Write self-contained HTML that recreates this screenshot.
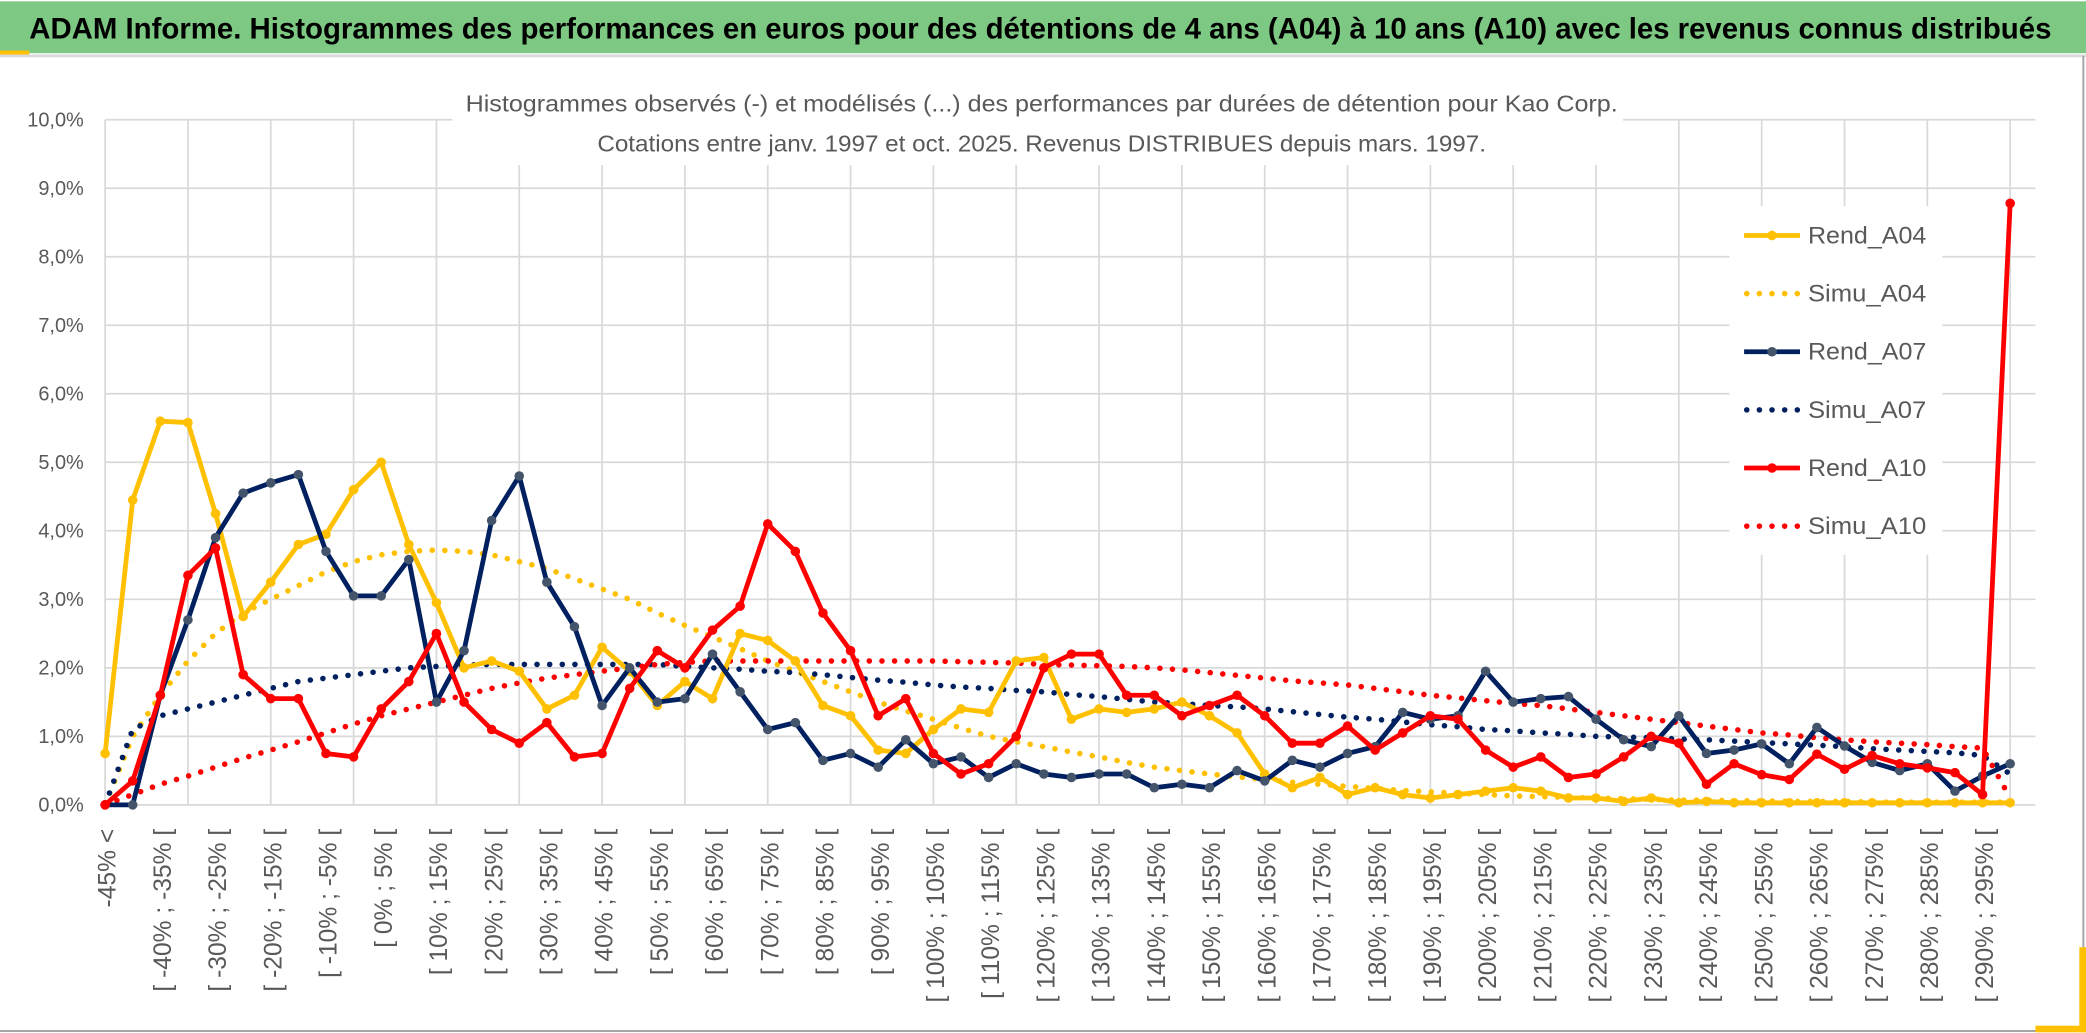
<!DOCTYPE html>
<html><head><meta charset="utf-8"><style>
html,body{margin:0;padding:0;background:#fff;}
svg{display:block;font-family:"Liberation Sans",sans-serif;}
</style></head><body>
<svg id="chart" width="2086" height="1033" viewBox="0 0 1568 776.5" preserveAspectRatio="none" xmlns="http://www.w3.org/2000/svg">
<rect x="0" y="0" width="1568" height="776.5" fill="#fff"/>
<rect x="0" y="1" width="1568" height="39" fill="#7dc882"/>
<rect x="0" y="38" width="22" height="3" fill="#ffc000"/>
<line x1="0" y1="42" x2="1568" y2="42" stroke="#d9d9d9" stroke-width="2"/>
<text x="22" y="29" font-size="22" font-weight="bold" fill="#000" textLength="1520" lengthAdjust="spacingAndGlyphs">ADAM Informe. Histogrammes des performances en euros pour des détentions de 4 ans (A04) à 10 ans (A10) avec les revenus connus distribués</text>
<line x1="1566" y1="42" x2="1566" y2="775" stroke="#a6a6a6" stroke-width="1.5"/>
<line x1="0" y1="775" x2="1566" y2="775" stroke="#a6a6a6" stroke-width="1.5"/>
<rect x="1563" y="712" width="5" height="64" fill="#ffc000"/>
<rect x="1530" y="771" width="38" height="5" fill="#ffc000"/>
<g id="grid"></g>
<g id="yaxis"></g>
<g id="xaxis"></g>
<rect x="340" y="60" width="880" height="64" fill="#fff"/>
<text x="783" y="84" font-size="17.5" fill="#595959" text-anchor="middle" textLength="866" lengthAdjust="spacingAndGlyphs">Histogrammes observés (-) et modélisés (...) des performances par durées de détention pour Kao Corp.</text>
<text x="783" y="114" font-size="17.5" fill="#595959" text-anchor="middle" textLength="668" lengthAdjust="spacingAndGlyphs">Cotations entre janv. 1997 et oct. 2025. Revenus DISTRIBUES depuis mars. 1997.</text>
<g id="series"></g>
<g id="legend"></g>
</svg>
<script>
const categoryStarts = [];
for (let k = -45; k <= 295; k += 5) categoryStarts.push(k);
const categories = ["-45% <"].concat(categoryStarts.map(s => "[ " + s + "% ; " + (s + 5) + "% ["));
const yTicks = [0,1,2,3,4,5,6,7,8,9,10];
const rendA04 = [0.75,4.45,5.6,5.58,4.25,2.75,3.25,3.8,3.95,4.6,5.0,3.8,2.95,2.0,2.1,1.95,1.4,1.6,2.3,1.95,1.45,1.8,1.55,2.5,2.4,2.1,1.45,1.3,0.8,0.75,1.1,1.4,1.35,2.1,2.15,1.25,1.4,1.35,1.4,1.5,1.3,1.05,0.45,0.25,0.4,0.15,0.25,0.15,0.1,0.15,0.2,0.25,0.2,0.1,0.1,0.05,0.1,0.03,0.05,0.03,0.03,0.03,0.03,0.03,0.03,0.03,0.03,0.03,0.03,0.03];
const simuA04 = [0,1.0,1.6,2.1,2.5,2.8,3.0,3.2,3.4,3.55,3.65,3.7,3.72,3.7,3.65,3.55,3.45,3.3,3.15,3.0,2.8,2.62,2.45,2.28,2.1,1.95,1.8,1.65,1.5,1.37,1.25,1.12,1.0,0.92,0.85,0.77,0.7,0.62,0.55,0.5,0.45,0.41,0.37,0.33,0.3,0.27,0.24,0.21,0.19,0.17,0.15,0.13,0.12,0.11,0.1,0.09,0.08,0.07,0.07,0.06,0.06,0.05,0.05,0.05,0.04,0.04,0.04,0.04,0.04,0.04];
const rendA07 = [0,0,1.6,2.7,3.9,4.55,4.7,4.82,3.7,3.05,3.05,3.58,1.5,2.25,4.15,4.8,3.25,2.6,1.45,2.0,1.5,1.55,2.2,1.65,1.1,1.2,0.65,0.75,0.55,0.95,0.6,0.7,0.4,0.6,0.45,0.4,0.45,0.45,0.25,0.3,0.25,0.5,0.35,0.65,0.55,0.75,0.85,1.35,1.25,1.3,1.95,1.5,1.55,1.58,1.25,0.95,0.85,1.3,0.75,0.8,0.89,0.6,1.13,0.86,0.62,0.5,0.6,0.2,0.42,0.6];
const simuA07 = [0,1.1,1.3,1.4,1.5,1.6,1.7,1.8,1.85,1.9,1.95,2.0,2.02,2.04,2.05,2.05,2.05,2.05,2.05,2.05,2.05,2.02,2.0,1.98,1.95,1.93,1.9,1.86,1.82,1.79,1.75,1.72,1.7,1.67,1.65,1.61,1.58,1.54,1.5,1.48,1.45,1.43,1.4,1.36,1.32,1.28,1.25,1.21,1.17,1.14,1.1,1.08,1.05,1.03,1.0,0.99,0.98,0.96,0.95,0.93,0.91,0.89,0.87,0.85,0.82,0.8,0.78,0.76,0.72,0.45];
const rendA10 = [0,0.35,1.6,3.35,3.75,1.9,1.55,1.55,0.75,0.7,1.4,1.8,2.5,1.5,1.1,0.9,1.2,0.7,0.75,1.7,2.25,2.0,2.55,2.9,4.1,3.7,2.8,2.25,1.3,1.55,0.75,0.45,0.6,1.0,2.0,2.2,2.2,1.6,1.6,1.3,1.45,1.6,1.3,0.9,0.9,1.15,0.8,1.05,1.3,1.25,0.8,0.55,0.7,0.4,0.45,0.7,1.0,0.9,0.3,0.6,0.44,0.37,0.74,0.52,0.72,0.6,0.54,0.47,0.15,8.78];
const simuA10 = [0,0.15,0.3,0.42,0.55,0.68,0.8,0.92,1.05,1.18,1.3,1.4,1.5,1.6,1.7,1.78,1.85,1.9,1.95,2.0,2.05,2.08,2.1,2.1,2.1,2.1,2.1,2.1,2.1,2.1,2.1,2.09,2.08,2.07,2.05,2.04,2.03,2.02,2.0,1.97,1.93,1.89,1.85,1.81,1.78,1.75,1.7,1.65,1.6,1.56,1.52,1.48,1.45,1.4,1.35,1.3,1.25,1.2,1.15,1.1,1.05,1.02,0.98,0.95,0.92,0.9,0.88,0.85,0.83,0.1];
const seriesNames = ["Rend_A04","Simu_A04","Rend_A07","Simu_A07","Rend_A10","Simu_A10"];

const NS = "http://www.w3.org/2000/svg";
const X0 = 79, X1 = 1511, Y0 = 605, Y1 = 90;
function xPos(i){ return X0 + i * (X1 - X0) / (categories.length - 1); }
function yPos(v){ return Y0 - (v - yTicks[0]) / (yTicks[yTicks.length-1] - yTicks[0]) * (Y0 - Y1); }
function mk(tag, attrs, parent){ const e = document.createElementNS(NS, tag); for (const k in attrs) e.setAttribute(k, attrs[k]); parent.appendChild(e); return e; }

const grid = document.getElementById("grid");
yTicks.forEach(t => {
  const l = mk("line", {x1:X0, x2:1530, y1:yPos(t), y2:yPos(t), stroke:"#d9d9d9", "stroke-width":1.3}, grid);
  
  
});
for (let i = 0; i < categories.length + 3; i += 3) {
  const x = X0 + i * (X1 - X0) / (categories.length - 1);
  const l = mk("line", {x1:x, x2:x, y1:Y1, y2:Y0, stroke:"#d9d9d9", "stroke-width":1.3}, grid);
  
  
}
const yaxis = document.getElementById("yaxis");
yTicks.forEach(t => {
  const tx = mk("text", {x:63, y:yPos(t)+5, "font-size":15, fill:"#595959", "text-anchor":"end"}, yaxis);
  tx.textContent = t.toFixed(1).replace(".", ",") + "%";
  
  
});
const xaxis = document.getElementById("xaxis");
categories.forEach((c, i) => {
  if (i % 2 !== 0) return;
  const x = xPos(i) + 8;
  const tx = mk("text", {x:x, y:623, "font-size":18.5, fill:"#595959", "text-anchor":"end", transform:"rotate(-90 " + x + " 623)"}, xaxis);
  tx.textContent = c;
  
  
});

const seriesG = document.getElementById("series");
function drawDotted(vals, color, name){
  const pts = vals.map((v,i) => xPos(i) + "," + yPos(v)).join(" ");
  const p = mk("polyline", {points:pts, fill:"none", stroke:color, "stroke-width":4.2, "stroke-linecap":"round", "stroke-dasharray":"0 9.5"}, seriesG);
  
  
}
function drawSolid(vals, color, marker, name){
  const pts = vals.map((v,i) => xPos(i) + "," + yPos(v)).join(" ");
  const p = mk("polyline", {points:pts, fill:"none", stroke:color, "stroke-width":3.6, "stroke-linejoin":"round"}, seriesG);
  
  
  vals.forEach((v,i) => {
    const c = mk("circle", {cx:xPos(i), cy:yPos(v), r:3.6, fill:marker}, seriesG);
    
    
  });
}
drawDotted(simuA04, "#ffc000", "simu-a04-line");
drawDotted(simuA07, "#002060", "simu-a07-line");
drawDotted(simuA10, "#ff0000", "simu-a10-line");
drawSolid(rendA04, "#ffc000", "#ffc000", "rend-a04-line");
drawSolid(rendA07, "#002060", "#44546a", "rend-a07-line");
drawSolid(rendA10, "#ff0000", "#ff0000", "rend-a10-line");

const legend = document.getElementById("legend");
const lc = ["#ffc000","#ffc000","#002060","#002060","#ff0000","#ff0000"];
const lm = ["#ffc000",null,"#44546a",null,"#ff0000",null];
mk("rect", {x:1300, y:155, width:160, height:262, fill:"#fff"}, legend);
seriesNames.forEach((n, i) => {
  const y = 177 + i * 43.7;
  const g = mk("g", {}, legend);
  
  
  if (lm[i]) {
    mk("line", {x1:1311, x2:1353, y1:y, y2:y, stroke:lc[i], "stroke-width":3.6}, g);
    mk("circle", {cx:1332, cy:y, r:3.6, fill:lm[i]}, g);
  } else {
    mk("line", {x1:1313, x2:1353, y1:y, y2:y, stroke:lc[i], "stroke-width":4.2, "stroke-linecap":"round", "stroke-dasharray":"0 9.5"}, g);
  }
  const t = mk("text", {x:1359, y:y+6, "font-size":18, fill:"#595959", textLength:89, lengthAdjust:"spacingAndGlyphs"}, g);
  t.textContent = n;
});
</script>
</body></html>
